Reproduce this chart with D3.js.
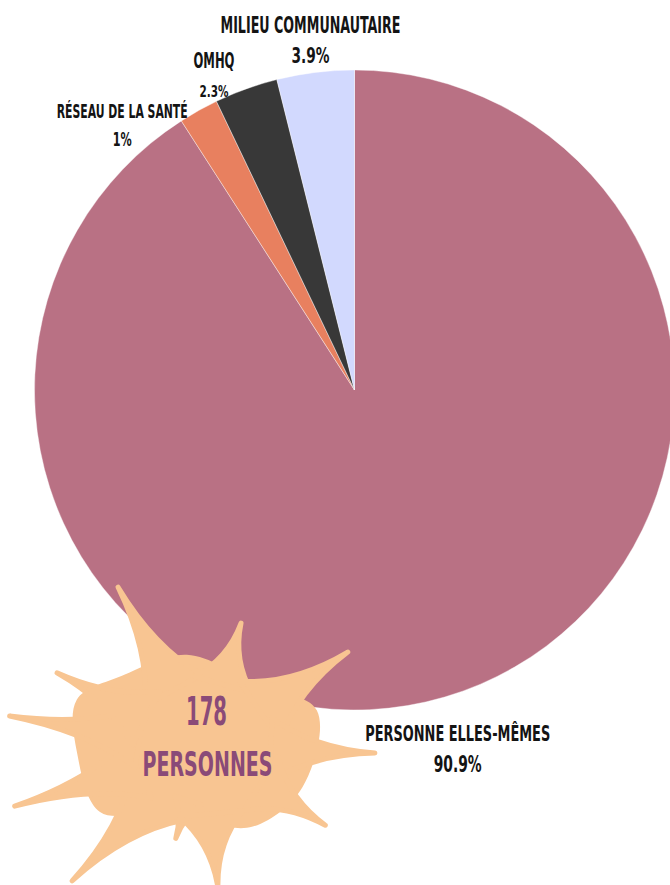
<!DOCTYPE html>
<html>
<head>
<meta charset="utf-8">
<script src="https://cdn.jsdelivr.net/npm/d3@7"></script>
<style>
  html, body { margin: 0; padding: 0; background: #ffffff; }
  svg { display: block; }
  text { font-family: "Liberation Sans Narrow", "DejaVu Sans Condensed", "Roboto", sans-serif; }
</style>
</head>
<body>
<svg id="chart" width="670" height="885"></svg>
<script>
// ---- Data ----
const categories = ["PERSONNE ELLES-MÊMES", "RÉSEAU DE LA SANTÉ", "OMHQ", "MILIEU COMMUNAUTAIRE"];
// slice shares as drawn in the picture (%)
const sliceShares = [90.9, 2.0, 3.2, 3.9];
// percentages as printed on the labels
const labelValues = ["90.9%", "1%", "2.3%", "3.9%"];
const totalLine1 = "178";
const totalLine2 = "PERSONNES";

// ---- Styles / layout ----
const colors = ["#b97184", "#e8805f", "#383838", "#d2d9fe"];
const cx = 354.5, cy = 390, R = 320;
const SY = 1.5; // vertical stretch for the condensed display lettering
const labelShift = [0, -11.3, -3.8, 0];
const labelRadius = [366, 358, 351, 360];
const nameCap = [16, 14, 16, 17];
const nameWidth = [185, 131, 41, 180];
const valCap = [16.5, 14, 12, 15];
const valWidth = [48, 19, 29, 38];
const valGap = [31, 28.5, 29, 30];

const svg = d3.select("#chart");

function condensedText(x, y, str, cap, width, color, bold) {
  const fs = cap / (0.729 * SY);
  svg.append("text")
    .attr("transform", `translate(${x},${y}) scale(1,${SY})`)
    .attr("text-anchor", "middle")
    .attr("font-size", fs)
    .attr("font-weight", "bold")
    .attr("fill", color)
    .attr("textLength", width)
    .attr("lengthAdjust", "spacingAndGlyphs")
    .text(str);
}

const pie = d3.pie().sort(null).value(d => d).startAngle(0).endAngle(2 * Math.PI);
const arcs = pie(sliceShares);
const arc = d3.arc().innerRadius(0).outerRadius(R);

const g = svg.append("g").attr("transform", `translate(${cx},${cy})`);
g.selectAll("path.slice")
  .data(arcs)
  .join("path")
  .attr("class", "slice")
  .attr("d", arc)
  .attr("fill", (d, i) => colors[i])
  .attr("stroke", "#ffffff")
  .attr("stroke-width", 0.4);

// labels
arcs.forEach((a, i) => {
  const mid = (a.startAngle + a.endAngle) / 2 + labelShift[i] * Math.PI / 180;
  const x = cx + labelRadius[i] * Math.sin(mid);
  const y = cy - labelRadius[i] * Math.cos(mid);
  condensedText(x, y, categories[i], nameCap[i], nameWidth[i], "#141414");
  condensedText(x, y + valGap[i], labelValues[i], valCap[i], valWidth[i], "#141414");
});

// ---- Starburst badge (decoration) ----
const sc = { x: 205, y: 748 };
const spikeAngles = [-118.4, -73.9, -33.9, 1.7, 32.7, 84.7, 107.9, 135, 163, 189.3, 206.9];
const spikeLengths = [183, 130, 172, 170, 143, 140, 95, 188, 199, 198, 166];
const spikeHalfWidths = [32, 30, 36, 32, 32, 32, 14, 36, 32, 30, 30];
const blobAngles = [-101, -50.5, -18.7, 21.9, 58.7, 97.9, 126.4, 148.6, 177.8, 200.6, 221];
const blobRadii = [95, 82, 118, 105, 92, 73, 81, 123, 128, 137, 110];
const starColor = "#f8c592";

const rad = d => d * Math.PI / 180;
const pt = (ang, r) => [sc.x + r * Math.cos(rad(ang)), sc.y + r * Math.sin(rad(ang))];

const star = svg.append("g");
const blobPts = blobAngles.map((a, i) => pt(a, blobRadii[i]));
star.append("path")
  .attr("d", d3.line().curve(d3.curveCatmullRomClosed.alpha(0.5))(blobPts))
  .attr("fill", starColor);

spikeAngles.forEach((a, i) => {
  const rt = spikeLengths[i];
  const rb = i === 6 ? 55 : 66;
  const w = spikeHalfWidths[i];
  const ux = Math.cos(rad(a)), uy = Math.sin(rad(a));
  const nx = -uy, ny = ux;
  const bx = sc.x + rb * ux, by = sc.y + rb * uy;
  const tx = sc.x + rt * ux, ty = sc.y + rt * uy;
  const cd = rb + 0.4 * (rt - rb);
  const k = 0.1;
  const c1x = sc.x + cd * ux + k * w * nx, c1y = sc.y + cd * uy + k * w * ny;
  const c2x = sc.x + cd * ux - k * w * nx, c2y = sc.y + cd * uy - k * w * ny;
  const p = d3.path();
  p.moveTo(bx + w * nx, by + w * ny);
  p.quadraticCurveTo(c1x, c1y, tx, ty);
  p.quadraticCurveTo(c2x, c2y, bx - w * nx, by - w * ny);
  p.closePath();
  star.append("path")
    .attr("d", p.toString())
    .attr("fill", starColor)
    .attr("stroke", starColor)
    .attr("stroke-width", 5)
    .attr("stroke-linejoin", "round");
});

condensedText(206.5, 725, totalLine1, 28, 41, "#8a4a78");
condensedText(207.5, 776, totalLine2, 24.5, 130, "#8a4a78");
</script>
</body>
</html>
